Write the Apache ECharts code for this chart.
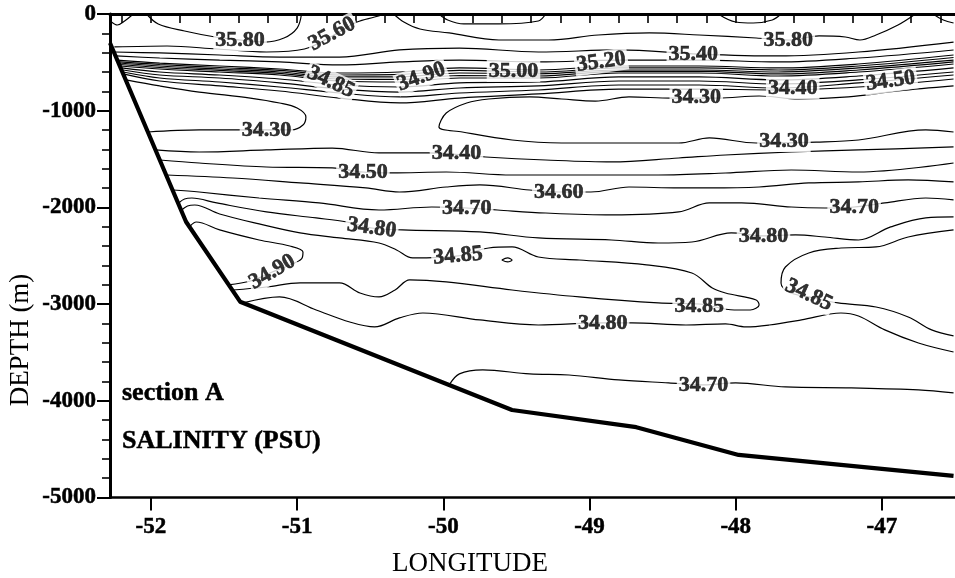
<!DOCTYPE html>
<html>
<head>
<meta charset="utf-8">
<script src="https://cdn.jsdelivr.net/npm/echarts@6/dist/echarts.min.js"></script>
<style>
  html, body { margin: 0; padding: 0; background: #fff; }
  #chart { width: 955px; height: 578px; }
</style>
</head>
<body>
<div id="chart"></div>
<script>
// Section A salinity (PSU) contours, longitude vs depth (m)

const lonTicks = [-52, -51, -50, -49, -48, -47];
const depthTicks = [0, -1000, -2000, -3000, -4000, -5000];

// sea floor profile
const bottomProfile = [[-52.28,-300],[-51.76,-2148],[-51.39,-2975],[-49.96,-3836],[-49.53,-4095],[-48.68,-4273],[-47.98,-4560],[-46.51,-4777]];

// upper layer isohalines
const s3580west = [[-52.03,0],[-51.95,-103],[-51.77,-176],[-51.56,-238],[-51.39,-269],[-51.22,-290],[-51.09,-248],[-51.00,-145],[-50.97,0]];
const s3560 = [[-52.25,-341],[-51.89,-331],[-51.55,-362],[-51.21,-393],[-50.95,-362],[-50.76,-227],[-50.59,-83],[-50.47,-31],[-50.40,0]];
const s3580cap = [[-50.03,0],[-49.97,-62],[-49.86,-103],[-49.62,-103],[-49.35,-72],[-49.30,0]];
const s3580east = [[-50.34,0],[-50.27,-83],[-50.16,-155],[-49.96,-196],[-49.62,-269],[-49.28,-269],[-48.94,-217],[-48.59,-196],[-48.25,-217],[-47.86,-248],[-47.64,-269],[-47.43,-227],[-47.25,-238],[-47.15,-269],[-47.04,-217],[-46.89,-114],[-46.77,0]];
const s3580capEast = [[-48.12,0],[-48.00,-83],[-47.88,-93],[-47.75,-62],[-47.69,0]];
const s3580edge = [[-46.65,0],[-46.58,-62],[-46.51,-93]];
const s3600corner = [[-52.27,-83],[-52.23,-114],[-52.18,-72],[-52.12,0]];
const s3540 = [[-52.25,-393],[-51.94,-403],[-51.53,-424],[-51.12,-445],[-50.71,-445],[-50.30,-372],[-49.89,-352],[-49.35,-393],[-48.80,-372],[-48.25,-414],[-47.71,-434],[-47.16,-393],[-46.51,-290]];
const s3520 = [[-52.24,-434],[-51.94,-455],[-51.53,-476],[-51.12,-496],[-50.71,-527],[-50.30,-496],[-49.89,-476],[-49.35,-496],[-48.80,-476],[-48.25,-476],[-47.71,-496],[-47.16,-455],[-46.51,-372]];
const s3500 = [[-52.23,-476],[-51.94,-507],[-51.53,-538],[-51.12,-569],[-50.71,-610],[-50.30,-600],[-49.89,-558],[-49.35,-579],[-48.80,-538],[-48.25,-538],[-47.71,-558],[-47.16,-517],[-46.51,-424]];
const s3495 = [[-52.23,-493],[-51.94,-522],[-51.53,-553],[-51.12,-584],[-50.71,-631],[-50.30,-625],[-49.89,-584],[-49.35,-600],[-48.80,-558],[-48.25,-558],[-47.71,-579],[-47.16,-538],[-46.51,-450]];
const s3490 = [[-52.22,-507],[-51.94,-538],[-51.53,-569],[-51.12,-600],[-50.71,-651],[-50.30,-651],[-49.89,-610],[-49.35,-620],[-48.80,-579],[-48.25,-579],[-47.71,-600],[-47.16,-558],[-46.51,-476]];
const s3488 = [[-52.21,-522],[-51.94,-553],[-51.53,-584],[-51.12,-615],[-50.71,-672],[-50.30,-677],[-49.89,-636],[-49.35,-641],[-48.80,-594],[-48.25,-594],[-47.71,-620],[-47.16,-579],[-46.51,-496]];
const s3485 = [[-52.21,-538],[-51.94,-569],[-51.53,-600],[-51.12,-631],[-50.71,-693],[-50.30,-703],[-49.89,-662],[-49.35,-662],[-48.80,-610],[-48.25,-610],[-47.71,-641],[-47.16,-600],[-46.51,-517]];
const s3470 = [[-52.20,-558],[-51.94,-600],[-51.53,-631],[-51.12,-672],[-50.71,-734],[-50.30,-755],[-49.89,-713],[-49.35,-703],[-48.80,-651],[-48.25,-651],[-47.71,-682],[-47.16,-641],[-46.51,-558]];
const s3460 = [[-52.19,-579],[-51.94,-631],[-51.53,-662],[-51.12,-713],[-50.71,-776],[-50.30,-807],[-49.89,-765],[-49.35,-744],[-48.80,-693],[-48.25,-693],[-47.71,-724],[-47.16,-682],[-46.51,-600]];
const s3450 = [[-52.19,-600],[-51.94,-662],[-51.53,-703],[-51.12,-755],[-50.71,-817],[-50.30,-858],[-49.89,-817],[-49.35,-786],[-48.80,-734],[-48.25,-734],[-47.71,-765],[-47.16,-713],[-46.51,-631]];
const s3440 = [[-52.19,-620],[-51.94,-693],[-51.53,-744],[-51.12,-796],[-50.71,-869],[-50.30,-920],[-49.89,-869],[-49.35,-827],[-48.80,-776],[-48.25,-776],[-47.71,-786],[-47.16,-755],[-46.51,-672]];

// intermediate water minimum (34.30)
const s3430west = [[-52.02,-1220],[-51.67,-1199],[-51.38,-1199],[-51.04,-1199],[-50.96,-1148],[-50.94,-1065],[-51.00,-972],[-51.12,-920],[-51.32,-869],[-51.67,-807],[-51.94,-744],[-52.17,-682]];
const s3430core = [[-46.51,-744],[-46.89,-796],[-47.23,-858],[-47.57,-879],[-47.84,-848],[-48.12,-869],[-48.44,-869],[-48.73,-858],[-48.96,-900],[-49.19,-879],[-49.41,-858],[-49.69,-879],[-49.84,-920],[-49.98,-1024],[-50.03,-1168],[-49.87,-1220],[-49.53,-1303],[-49.19,-1334],[-48.85,-1334],[-48.39,-1334],[-48.18,-1282],[-47.86,-1334],[-47.45,-1324],[-47.16,-1303],[-46.70,-1199],[-46.51,-1220]];

// deep layer isohalines
const d3440 = [[-51.97,-1406],[-51.67,-1427],[-51.21,-1406],[-50.76,-1386],[-50.44,-1437],[-50.10,-1437],[-49.71,-1479],[-49.30,-1510],[-48.85,-1530],[-48.39,-1489],[-48.07,-1458],[-47.62,-1427],[-47.16,-1406],[-46.51,-1375]];
const d3450 = [[-51.94,-1510],[-51.67,-1541],[-51.21,-1582],[-50.76,-1592],[-50.55,-1634],[-50.35,-1644],[-49.98,-1634],[-49.53,-1665],[-49.07,-1665],[-48.53,-1665],[-48.07,-1644],[-47.62,-1613],[-47.16,-1634],[-46.51,-1541]];
const d3460 = [[-51.89,-1665],[-51.44,-1696],[-50.98,-1747],[-50.53,-1799],[-50.30,-1841],[-49.98,-1789],[-49.75,-1768],[-49.41,-1820],[-49.21,-1841],[-48.99,-1841],[-48.73,-1789],[-48.39,-1799],[-48.18,-1799],[-47.84,-1789],[-47.50,-1747],[-47.16,-1737],[-46.82,-1716],[-46.51,-1737]];
const d3470 = [[-51.85,-1820],[-51.67,-1841],[-51.26,-1903],[-50.85,-1954],[-50.44,-2027],[-50.08,-1996],[-49.84,-2006],[-49.63,-2027],[-49.30,-2058],[-48.85,-2078],[-48.39,-2047],[-48.18,-1954],[-47.96,-1954],[-47.62,-1996],[-47.39,-2006],[-47.19,-1996],[-46.98,-1954],[-46.70,-1903],[-46.51,-1923]];
const d3480 = [[-51.81,-1954],[-51.77,-1913],[-51.72,-1903],[-51.55,-1954],[-51.21,-2047],[-50.87,-2109],[-50.66,-2151],[-50.49,-2213],[-50.28,-2233],[-49.75,-2254],[-49.35,-2316],[-48.85,-2337],[-48.53,-2368],[-48.30,-2358],[-48.03,-2264],[-47.81,-2295],[-47.59,-2285],[-47.39,-2306],[-47.16,-2337],[-46.94,-2202],[-46.70,-2109],[-46.51,-2099]];
const d3485 = [[-51.79,-2027],[-51.75,-1985],[-51.70,-1975],[-51.53,-2068],[-51.26,-2171],[-50.98,-2264],[-50.71,-2316],[-50.44,-2368],[-50.32,-2440],[-50.21,-2523],[-49.90,-2502],[-49.69,-2420],[-49.53,-2409],[-49.35,-2513],[-49.07,-2544],[-48.61,-2595],[-48.30,-2678],[-48.16,-2833],[-48.07,-2885],[-47.86,-2957],[-47.84,-3009],[-47.90,-3061],[-48.01,-3061],[-48.25,-2999],[-48.53,-2988],[-49.07,-2926],[-49.53,-2854],[-49.98,-2771],[-50.23,-2750],[-50.33,-2854],[-50.44,-2926],[-50.57,-2885],[-50.71,-2781],[-50.98,-2781],[-51.21,-2823],[-51.44,-2854]];
const d3490 = [[-51.73,-2192],[-51.69,-2151],[-51.53,-2233],[-51.26,-2337],[-51.05,-2399],[-50.96,-2461],[-50.97,-2533],[-51.05,-2595],[-51.17,-2668],[-51.32,-2761],[-51.47,-2802]];
const d3490spot = [[-49.60,-2544],[-49.56,-2523],[-49.53,-2544],[-49.56,-2564],[-49.60,-2544]];
const d3480lower = [[-51.37,-2988],[-51.12,-2926],[-50.87,-3061],[-50.64,-3185],[-50.47,-3236],[-50.30,-3143],[-50.14,-3092],[-49.75,-3164],[-49.35,-3216],[-48.91,-3195],[-48.71,-3195],[-48.34,-3216],[-48.07,-3205],[-47.93,-3236],[-47.77,-3216],[-47.55,-3164],[-47.28,-3092],[-47.16,-3123],[-46.98,-3267],[-46.75,-3402],[-46.51,-3495]];
const d3485east = [[-46.51,-2233],[-46.82,-2306],[-47.04,-2409],[-47.28,-2420],[-47.50,-2471],[-47.66,-2616],[-47.69,-2781],[-47.64,-2875],[-47.50,-2926],[-47.30,-2988],[-47.04,-3030],[-46.82,-3133],[-46.66,-3267],[-46.51,-3329]];
const d3470lower = [[-49.96,-3836],[-49.89,-3722],[-49.73,-3681],[-49.41,-3722],[-49.14,-3733],[-48.80,-3784],[-48.46,-3815],[-48.22,-3836],[-48.00,-3815],[-47.66,-3857],[-47.21,-3867],[-46.75,-3888],[-46.51,-3919]];

// contour labels: position and value
const labelLon   = [-51.39,-50.76,-50.77,-50.15,-49.52,-48.92,-48.29,-47.64,-48.27,-47.61,-46.94,-51.21,-47.67,-49.91,-50.55,-49.21,-49.84,-47.19,-50.49,-47.81,-49.90,-51.17,-48.25,-47.50,-48.91,-48.22];
const labelDepth = [-269,-207,-703,-651,-589,-496,-414,-269,-858,-765,-693,-1199,-1313,-1437,-1634,-1841,-2006,-1996,-2213,-2295,-2502,-2668,-3019,-2906,-3195,-3836];
const labelText  = ['35.80','35.60','34.85','34.90','35.00','35.20','35.40','35.80','34.30','34.40','34.50','34.30','34.30','34.40','34.50','34.60','34.70','34.70','34.80','34.80','34.85','34.90','34.85','34.85','34.80','34.70'];
const labelTilt  = [0,28,-25,20,0,8,0,0,0,0,8,0,0,0,0,0,0,0,-8,0,5,30,0,-25,0,0];

const isohalines = [
  s3580west, s3560, s3580cap, s3580east, s3580capEast, s3580edge, s3600corner,
  s3540, s3520, s3500, s3495, s3490, s3488, s3485, s3470, s3460, s3450, s3440,
  s3430west, s3430core,
  d3440, d3450, d3460, d3470, d3480, d3485, d3490, d3490spot,
  d3480lower, d3485east, d3470lower
];

const SERIF = '"Liberation Serif", "Times New Roman", serif';
const LON_MIN = -52.28, LON_MAX = -46.5;

const minorLon = [];
for (let v = -52.2; v <= -46.5; v += 0.2) minorLon.push(+v.toFixed(1));

const chart = echarts.init(document.getElementById('chart'), null, { renderer: 'canvas' });

const series = isohalines.map((pts, i) => ({
  type: 'line',
  name: 'iso' + i,
  data: pts,
  showSymbol: false,
  smooth: 0.35,
  clip: true,
  silent: true,
  lineStyle: { color: '#000', width: 1.2 },
  z: 2
}));

series.push({
  type: 'line',
  name: 'bottom',
  data: bottomProfile,
  showSymbol: false,
  smooth: false,
  silent: true,
  lineStyle: { color: '#000', width: 4.2, join: 'round' },
  z: 3
});

series.push({
  type: 'scatter',
  name: 'labels',
  symbolSize: 0,
  silent: true,
  z: 5,
  data: labelText.map((t, i) => ({
    value: [labelLon[i], labelDepth[i]],
    label: { rotate: labelTilt[i], formatter: t }
  })),
  label: {
    show: true,
    position: 'inside',
    fontFamily: SERIF,
    fontWeight: 'bold',
    fontSize: 22,
    color: '#000',
    textBorderColor: '#000',
    textBorderWidth: 0.6,
    backgroundColor: '#fff',
    padding: [0, 2]
  }
});

const tickFont = {
  fontFamily: SERIF, fontWeight: 'bold', fontSize: 23, color: '#000',
  textBorderColor: '#000', textBorderWidth: 0.5
};

const option = {
  animation: false,
  backgroundColor: '#fff',
  grid: { left: 110, top: 14, width: 846.8, height: 483.5, containLabel: false },
  xAxis: [
    {
      type: 'value', position: 'bottom', min: LON_MIN, max: LON_MAX,
      axisLine: { show: true, onZero: false, lineStyle: { color: '#000', width: 2.5 } },
      axisTick: { show: true, inside: false, length: 13, customValues: lonTicks, lineStyle: { color: '#000', width: 2 } },
      axisLabel: Object.assign({ show: true, customValues: lonTicks, margin: 18, formatter: v => String(v) }, tickFont),
      splitLine: { show: false }
    },
    {
      type: 'value', position: 'bottom', min: LON_MIN, max: LON_MAX,
      axisLine: { show: false },
      axisTick: { show: true, inside: false, length: 9, customValues: minorLon, lineStyle: { color: '#000', width: 1.6 } },
      axisLabel: { show: false },
      splitLine: { show: false }
    },
    {
      type: 'value', position: 'top', min: LON_MIN, max: LON_MAX,
      axisLine: { show: true, onZero: false, lineStyle: { color: '#000', width: 3 } },
      axisTick: { show: false },
      axisLabel: { show: false },
      splitLine: { show: false }
    }
  ],
  yAxis: {
    type: 'value', min: depthTicks[depthTicks.length - 1], max: depthTicks[0], interval: 1000,
    axisLine: { show: true, onZero: false, lineStyle: { color: '#000', width: 3 } },
    axisTick: { show: true, inside: false, length: 13, lineStyle: { color: '#000', width: 2 } },
    minorTick: { show: true, splitNumber: 5, length: 8, lineStyle: { color: '#000', width: 1.6 } },
    axisLabel: Object.assign({ margin: 14, formatter: v => String(v) }, tickFont),
    splitLine: { show: false },
    minorSplitLine: { show: false }
  },
  graphic: [
    {
      type: 'text', x: 470, y: 564,
      style: { text: 'LONGITUDE', font: '27px ' + SERIF, fill: '#000', align: 'center', verticalAlign: 'middle' }
    },
    {
      type: 'text', x: 21, y: 340, rotation: Math.PI / 2,
      style: { text: 'DEPTH (m)', font: '27px ' + SERIF, fill: '#000', align: 'center', verticalAlign: 'middle' }
    },
    {
      type: 'text', x: 122, y: 393,
      style: { text: 'section A', font: 'bold 26px ' + SERIF, fill: '#000', stroke: '#000', lineWidth: 0.5, align: 'left', verticalAlign: 'middle' }
    },
    {
      type: 'text', x: 122, y: 441,
      style: { text: 'SALINITY (PSU)', font: 'bold 26px ' + SERIF, fill: '#000', stroke: '#000', lineWidth: 0.5, align: 'left', verticalAlign: 'middle' }
    }
  ],
  series: series
};

chart.setOption(option);
</script>
</body>
</html>
